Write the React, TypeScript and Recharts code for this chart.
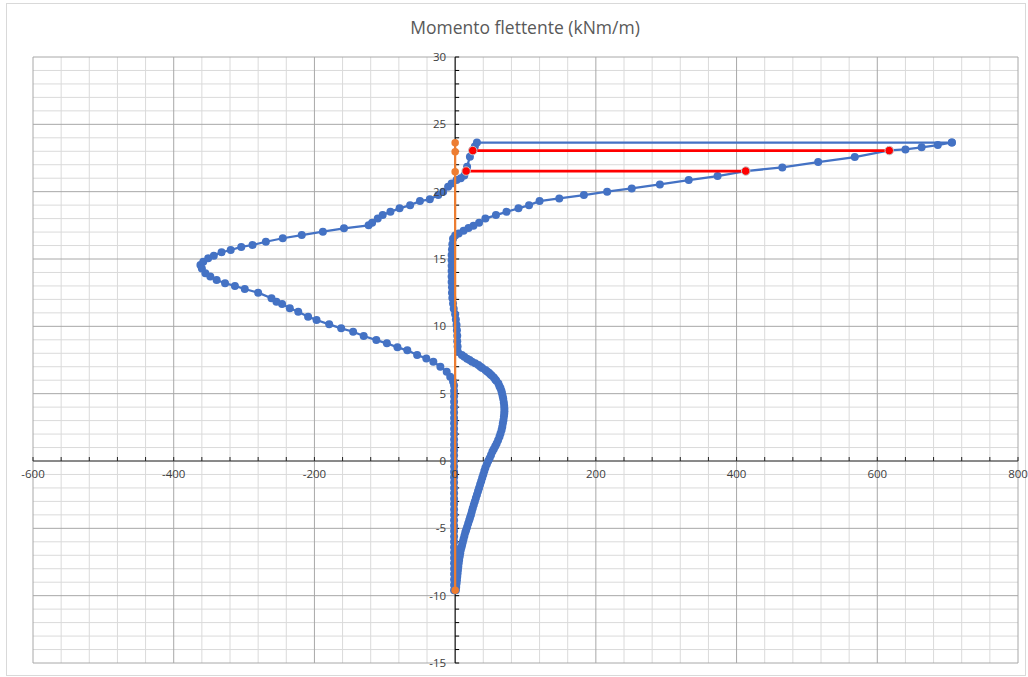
import React from 'react';
import { ScatterChart, Scatter, XAxis, YAxis, ReferenceLine, ReferenceDot } from 'recharts';

const FONT = '"Open Sans", "Noto Sans", sans-serif';
const BLUE = '#4472C4';
const ORANGE = '#ED7D31';
const RED = '#FF0000';
const TEXT = '#404040';

// axis ticks
const xMajor = [-600, -400, -200, 0, 200, 400, 600, 800];
const yMajor = [-15, -10, -5, 0, 5, 10, 15, 20, 25, 30];
const xMinorPerMajor = 5; // minor every 40
const yMinorPerMajor = 5; // minor every 1

// left loop: stem at 0, bulge to the left, up to the top and the horizontal bar
const loopLeft: [number, number][] = [
  [-1.5, -9.6], [-1.5, -9.2], [-1.5, -8.8], [-1.5, -8.4], [-1.5, -8.0], [-1.5, -7.6], [-1.5, -7.2],
  [-1.5, -6.8], [-1.5, -6.4], [-1.5, -6.0], [-1.5, -5.6], [-1.5, -5.2], [-1.5, -4.8], [-1.5, -4.4],
  [-1.5, -4.0], [-1.5, -3.6], [-1.5, -3.2], [-1.5, -2.8], [-1.5, -2.4], [-1.5, -2.0], [-1.5, -1.6],
  [-1.5, -1.2], [-1.5, -0.8], [-1.5, -0.4], [-1.5, 0], [-1.5, 0.4], [-1.5, 0.8], [-1.5, 1.2],
  [-1.5, 1.6], [-1.5, 2.0], [-1.5, 2.4], [-1.5, 2.8], [-1.5, 3.2], [-1.5, 3.6], [-1.5, 4.0],
  [-1.5, 4.4], [-1.5, 4.8], [-1.5, 5.2], [-1.5, 5.6], [-3, 5.9],
  [-7, 6.26], [-12, 6.63], [-21, 7.0], [-31, 7.37], [-41, 7.62], [-54, 7.87], [-68, 8.22],
  [-82, 8.44], [-97, 8.74], [-112, 8.98], [-130, 9.28], [-145, 9.6], [-162, 9.85], [-179, 10.15],
  [-197, 10.47], [-209, 10.72], [-223, 11.09], [-235, 11.34], [-246, 11.66], [-254, 11.83],
  [-261, 12.08], [-280, 12.5], [-299, 12.77], [-313, 13.0], [-327, 13.2], [-339, 13.44],
  [-348, 13.7], [-355, 13.94], [-360, 14.3], [-362, 14.55], [-358, 14.8], [-351, 15.05],
  [-343, 15.25], [-332, 15.5], [-319, 15.67], [-304, 15.9], [-288, 16.04], [-269, 16.28],
  [-245, 16.54], [-218, 16.78], [-188, 17.03], [-158, 17.28], [-123, 17.5], [-118, 17.7],
  [-110, 18.0], [-103, 18.27], [-92, 18.5], [-79, 18.76], [-64, 19.0], [-50, 19.3], [-36, 19.43],
  [-24, 19.75], [-17, 20.0], [-10, 20.37], [-5, 20.6], [2, 20.87], [8, 21.0], [13, 21.2],
  [17, 21.85], [21, 22.6], [25, 23.05], [28, 23.35], [31, 23.65], [706, 23.65],
];

// right loop: from the top right down to 0, then bulge to the right
const loopRight: [number, number][] = [
  [706, 23.66], [686, 23.46], [663, 23.29], [640, 23.14], [617, 23.06], [568, 22.57], [516, 22.2],
  [465, 21.8], [413, 21.53], [373, 21.16], [332, 20.86], [291, 20.54], [251, 20.24], [216, 20.0],
  [183, 19.75], [148, 19.5], [120, 19.3], [105, 19.0], [90, 18.76], [73, 18.5], [58, 18.26],
  [43, 18.0], [34, 17.7], [26, 17.47], [19, 17.3], [12, 17.1], [5, 16.9], [0, 16.75], [-3, 16.5],
  [-4, 16.1], [-4.5, 15.7], [-5, 15.3], [-5, 14.9], [-5, 14.5], [-5, 14.1], [-5, 13.7], [-5, 13.3],
  [-4.5, 12.9], [-4.5, 12.5], [-4, 12.1], [-3, 11.7], [-2, 11.3], [0, 10.9], [1, 10.5], [2, 10.1],
  [2.5, 9.7], [3, 9.3], [3, 8.9], [3.5, 8.5], [4, 8.1],
  [9.5, 7.87], [13, 7.75], [17, 7.6], [20.5, 7.5], [24, 7.37], [28.5, 7.25], [33, 7.13], [36, 7.0],
  [38.5, 6.9], [43, 6.76], [45.5, 6.65], [48, 6.55], [50, 6.45], [52, 6.35], [55, 6.2], [57, 6.05],
  [58.5, 5.95], [61.5, 5.75], [63, 5.55], [64.5, 5.4], [65.8, 5.2], [66.6, 5.03], [67.6, 4.8],
  [68.4, 4.6], [69.2, 4.35], [69.7, 4.1], [70, 3.9], [70, 3.7], [69.8, 3.5], [69.3, 3.3],
  [68.7, 3.05], [67.8, 2.8], [67, 2.55], [66, 2.3], [64.5, 2.05], [63, 1.8], [61, 1.55], [59, 1.3],
  [57, 1.1], [55, 0.9], [53, 0.7], [51, 0.45], [49, 0.2], [47, 0], [45, -0.25], [43, -0.5],
  [41.5, -0.75], [40, -1.0], [38.5, -1.25], [37, -1.5], [35.5, -1.75], [34, -2.0], [32.5, -2.25],
  [31, -2.5], [29.5, -2.75], [28, -3.0], [26.5, -3.25], [25, -3.5], [23.7, -3.75], [22.5, -4.0],
  [21.2, -4.2], [20, -4.4], [18.5, -4.65], [17, -4.9], [15.7, -5.1], [14.5, -5.3], [13.2, -5.55],
  [12, -5.8], [11, -6.0], [10, -6.2], [9, -6.4], [8, -6.6], [7.2, -6.85], [6.5, -7.1], [5.7, -7.35],
  [5, -7.6], [4.5, -7.85], [4, -8.1], [3.5, -8.35], [3, -8.6], [2.5, -8.85], [2, -9.1], [1.5, -9.35],
  [1, -9.6],
];

const orangeLine: [number, number][] = [[0, 23.63], [0, 22.96], [0, 21.48], [0, -9.6]];
const redUpper: [number, number][] = [[25, 23.05], [617, 23.05]];
const redLower: [number, number][] = [[15.6, 21.53], [413, 21.53]];

const toPts = (arr: [number, number][]) => arr.map(([x, y]) => ({ x, y }));

function minorTicks(major: number[], per: number) {
  const out: number[] = [];
  for (let i = 0; i < major.length - 1; i++) {
    const step = (major[i + 1] - major[i]) / per;
    for (let k = 1; k < per; k++) out.push(major[i] + step * k);
  }
  return out;
}

const xMinor = minorTicks(xMajor, xMinorPerMajor);
const yMinor = minorTicks(yMajor, yMinorPerMajor);

const dot = (r: number, fill: string, stroke = 'none') => (p: any) => (
  <circle cx={p.cx} cy={p.cy} r={r} fill={fill} stroke={stroke} strokeWidth={1} />
);

export default function App() {
  return (
    <div style={{ position: 'absolute', left: 0, top: 0, width: 1028, height: 677, background: '#fff', fontFamily: FONT }}>
      <div style={{ position: 'absolute', left: 6, top: 3, width: 1018, height: 671, border: '1px solid #D9D9D9' }} />
      <div style={{ position: 'absolute', left: 0, top: 15, width: 1050, textAlign: 'center', fontSize: 17.5, color: '#595959' }}>
        Momento flettente (kNm/m)
      </div>
      <ScatterChart
        width={1028}
        height={677}
        margin={{ top: 57, right: 10, bottom: 14, left: 33 }}
        style={{ position: 'absolute', left: 0, top: 0 }}
      >
        <XAxis type="number" dataKey="x" domain={[-600, 800]} hide allowDataOverflow />
        <YAxis type="number" dataKey="y" domain={[-15, 30]} hide allowDataOverflow />

        {xMinor.map((v) => (
          <ReferenceLine key={'xm' + v} x={v} stroke="#DADADA" strokeWidth={1} zIndex={-100} />
        ))}
        {yMinor.map((v) => (
          <ReferenceLine key={'ym' + v} y={v} stroke="#DADADA" strokeWidth={1} zIndex={-100} />
        ))}
        {xMajor.map((v) => (
          <ReferenceLine key={'xM' + v} x={v} stroke="#A8A8A8" strokeWidth={1} zIndex={-90} />
        ))}
        {yMajor.map((v) => (
          <ReferenceLine key={'yM' + v} y={v} stroke="#A8A8A8" strokeWidth={1} zIndex={-90} />
        ))}
        <ReferenceLine x={0} stroke="#000" strokeWidth={1} zIndex={-80} />
        <ReferenceLine y={0} stroke="#404040" strokeWidth={1} zIndex={-80} />

        {[...xMajor, ...xMinor].map((v) => (
          <ReferenceDot
            key={'xt' + v}
            x={v}
            y={0}
            r={0}
            zIndex={-70}
            shape={(p: any) => <line x1={p.cx} y1={p.cy} x2={p.cx} y2={p.cy - 4} stroke="#222" />}
          />
        ))}
        {[...yMajor, ...yMinor].map((v) => (
          <ReferenceDot
            key={'yt' + v}
            x={0}
            y={v}
            r={0}
            zIndex={-70}
            shape={(p: any) => <line x1={p.cx} y1={p.cy} x2={p.cx + 4} y2={p.cy} stroke="#000" />}
          />
        ))}
        {xMajor.map((v) => (
          <ReferenceDot
            key={'xl' + v}
            x={v}
            y={0}
            r={0}
            shape={() => <g />}
            label={{ value: String(v), position: 'bottom', offset: 9, fill: TEXT, fontSize: 11.5, fontFamily: FONT }}
          />
        ))}
        {yMajor.map((v) => (
          <ReferenceDot
            key={'yl' + v}
            x={0}
            y={v}
            r={0}
            shape={() => <g />}
            label={{ value: String(v), position: 'left', offset: 9, fill: TEXT, fontSize: 11.5, fontFamily: FONT }}
          />
        ))}

        <Scatter data={toPts(loopLeft)} line={{ stroke: BLUE, strokeWidth: 2.25 }} shape={dot(4, BLUE)} isAnimationActive={false} />
        <Scatter data={toPts(loopRight)} line={{ stroke: BLUE, strokeWidth: 2.25 }} shape={dot(4, BLUE)} isAnimationActive={false} />
        <Scatter data={toPts(orangeLine)} line={{ stroke: ORANGE, strokeWidth: 2.25 }} shape={dot(3.75, ORANGE)} isAnimationActive={false} />
        <Scatter data={toPts(redUpper)} line={{ stroke: RED, strokeWidth: 2.75 }} shape={dot(4.25, RED, '#C8C8C8')} isAnimationActive={false} />
        <Scatter data={toPts(redLower)} line={{ stroke: RED, strokeWidth: 2.75 }} shape={dot(4.25, RED, '#C8C8C8')} isAnimationActive={false} />
      </ScatterChart>
    </div>
  );
}
